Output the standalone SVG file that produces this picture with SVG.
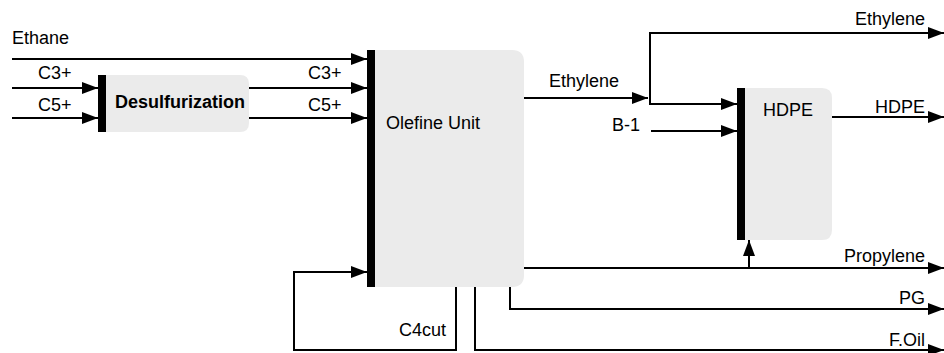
<svg xmlns="http://www.w3.org/2000/svg" width="944" height="353" viewBox="0 0 944 353">
<style>
text{font-family:"Liberation Sans",Arial,sans-serif;font-size:18px;fill:#000}
.c{fill:none;stroke:#000;stroke-width:2}
.box{fill:#ebebeb}
.bar{fill:#000}
</style>
<defs>
<marker id="ah" markerUnits="userSpaceOnUse" markerWidth="17" markerHeight="13" refX="16" refY="6" orient="auto">
<path d="M0,0 L16,6 L0,12 z" fill="#000"/>
</marker>
</defs>
<rect width="944" height="353" fill="#fff"/>
<g id="desulfurization">
<path class="box" d="M98,75 H240 Q249,75 249,84 V123 Q249,132 240,132 H98 Z"/>
<rect class="bar" x="98" y="75" width="8" height="57"/>
<text x="180" y="108" text-anchor="middle" font-weight="bold">Desulfurization</text>
</g>
<g id="olefine">
<path class="box" d="M367,50 H512 Q524,50 524,62 V275 Q524,287 512,287 H367 Z"/>
<rect class="bar" x="367" y="50" width="8" height="237"/>
<text x="386" y="129">Olefine Unit</text>
</g>
<g id="hdpe">
<path class="box" d="M737,88 H822 Q832,88 832,98 V230 Q832,240 822,240 H737 Z"/>
<rect class="bar" x="737" y="88" width="8" height="152"/>
<text x="763" y="116">HDPE</text>
</g>
<g id="connectors">
<path class="c" d="M12,59 H367" marker-end="url(#ah)"/>
<path class="c" d="M12,88 H98" marker-end="url(#ah)"/>
<path class="c" d="M12,118 H98" marker-end="url(#ah)"/>
<path class="c" d="M249,88 H367" marker-end="url(#ah)"/>
<path class="c" d="M249,118 H367" marker-end="url(#ah)"/>
<path class="c" d="M524,98 H648" marker-end="url(#ah)"/>
<path class="c" d="M650,104 V33 H944" marker-end="url(#ah)"/>
<path class="c" d="M650,98 V104 H737" marker-end="url(#ah)"/>
<path class="c" d="M651,131 H737" marker-end="url(#ah)"/>
<path class="c" d="M832,117 H944" marker-end="url(#ah)"/>
<path class="c" d="M524,268 H944" marker-end="url(#ah)"/>
<path class="c" d="M749,268 V240" marker-end="url(#ah)"/>
<path class="c" d="M510,287 V309 H944" marker-end="url(#ah)"/>
<path class="c" d="M475,287 V350 H944" marker-end="url(#ah)"/>
<path class="c" d="M456,287 V350 H294 V272 H367" marker-end="url(#ah)"/>
</g>
<g id="labels">
<text x="12" y="44">Ethane</text>
<text x="38" y="79">C3+</text>
<text x="38" y="111">C5+</text>
<text x="308" y="79">C3+</text>
<text x="308" y="111">C5+</text>
<text x="549" y="87">Ethylene</text>
<text x="925" y="25" text-anchor="end">Ethylene</text>
<text x="612" y="131">B-1</text>
<text x="925" y="113" text-anchor="end">HDPE</text>
<text x="925" y="262" text-anchor="end">Propylene</text>
<text x="925" y="304" text-anchor="end">PG</text>
<text x="925" y="346" text-anchor="end">F.Oil</text>
<text x="399" y="336">C4cut</text>
</g>
</svg>
